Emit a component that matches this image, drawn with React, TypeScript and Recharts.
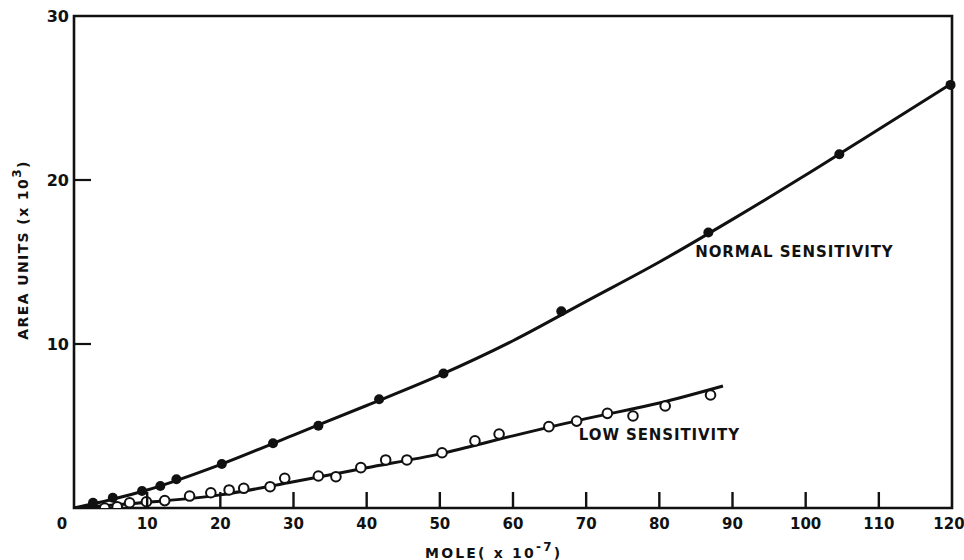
import React from 'react';
import {
  ComposedChart,
  Line,
  Scatter,
  XAxis,
  YAxis,
  ReferenceArea,
  ReferenceDot,
} from 'recharts';

// measured points, normal sensitivity (filled dots)
const normalX = [2.6, 5.3, 9.3, 11.8, 14.0, 20.2, 27.2, 33.4, 41.7, 50.5, 66.6, 86.7, 104.6, 119.8];
const normalY = [0.32, 0.63, 1.04, 1.34, 1.75, 2.68, 3.95, 5.02, 6.63, 8.2, 12.0, 16.8, 21.57, 25.8];

// drawn curve through the normal points
const normalCurveX = [0, 5, 10, 20, 30, 40, 50, 60, 70, 80, 90, 100, 110, 120];
const normalCurveY = [0, 0.5, 1.1, 2.65, 4.45, 6.25, 8.1, 10.2, 12.6, 15.0, 17.6, 20.3, 23.1, 25.9];

// measured points, low sensitivity (open circles)
const lowX = [4.2, 5.9, 7.6, 9.9, 12.4, 15.8, 18.7, 21.2, 23.2, 26.8, 28.8, 33.4, 35.8, 39.2, 42.6, 45.5, 50.3, 54.8, 58.1, 64.9, 68.7, 72.9, 76.4, 80.8, 87.0];
const lowY = [0, 0.08, 0.32, 0.38, 0.45, 0.73, 0.93, 1.1, 1.2, 1.3, 1.81, 1.95, 1.91, 2.46, 2.93, 2.93, 3.37, 4.09, 4.51, 4.96, 5.3, 5.77, 5.61, 6.22, 6.89];

// drawn line through the low points
const lowCurveX = [0, 10, 20, 30, 40, 50, 60, 70, 80, 88.7];
const lowCurveY = [0, 0.35, 0.8, 1.6, 2.45, 3.3, 4.4, 5.45, 6.4, 7.44];

const xTicks = [0, 10, 20, 30, 40, 50, 60, 70, 80, 90, 100, 110, 120];
const yTicks = [10, 20, 30];

const FONT = '"DejaVu Sans", sans-serif';
const INK = '#111';

const zip = (xs: number[], ys: number[]) => xs.map((x, i) => ({ x, y: ys[i] }));

const normalPoints = zip(normalX, normalY);
const normalCurve = zip(normalCurveX, normalCurveY);
const lowPoints = zip(lowX, lowY);
const lowCurve = zip(lowCurveX, lowCurveY);

const XTick = ({ x, y, payload }: any) => {
  const v = payload.value;
  // first and last labels are nudged inward like the original lettering
  const dx = v === 0 ? -12 : v === 120 ? -3 : 0;
  return (
    <g>
      {v > 0 && v < 120 && (
        <path d={`M${x},${y - 1}V${y - 16}`} stroke={INK} strokeWidth={2.4} fill="none" />
      )}
      <text
        x={x + dx}
        y={y + 21}
        textAnchor="middle"
        fontFamily={FONT}
        fontWeight="bold"
        fontSize={15}
        fill={INK}
      >
        {v}
      </text>
    </g>
  );
};

const YTick = ({ x, y, payload }: any) => {
  const v = payload.value;
  return (
    <g>
      {v > 0 && v < 30 && (
        <path d={`M${x + 1},${y}H${x + 17}`} stroke={INK} strokeWidth={2.2} fill="none" />
      )}
      <text
        x={x - 5}
        y={y}
        textAnchor="end"
        dominantBaseline="central"
        fontFamily={FONT}
        fontWeight="bold"
        fontSize={16}
        fill={INK}
      >
        {v}
      </text>
    </g>
  );
};

const XTitle = ({ viewBox }: any) => (
  <text
    x={viewBox.x + 351}
    y={viewBox.y + 45}
    dominantBaseline="central"
    fontFamily={FONT}
    fontWeight="bold"
    fontSize={14}
    letterSpacing={2.2}
    fill={INK}
  >
    MOLE( x 10
    <tspan dy={-6} fontSize={12}>-7</tspan>
    <tspan dy={6}>)</tspan>
  </text>
);

const YTitle = ({ viewBox }: any) => {
  const cx = viewBox.x + 9;
  const cy = viewBox.y + 234;
  return (
    <text
      x={cx}
      y={cy}
      transform={`rotate(-90 ${cx} ${cy})`}
      textAnchor="middle"
      dominantBaseline="central"
      fontFamily={FONT}
      fontWeight="bold"
      fontSize={14}
      letterSpacing={1.4}
      fill={INK}
    >
      AREA  UNITS (x 10
      <tspan dy={-6} fontSize={12}>3</tspan>
      <tspan dy={6}>)</tspan>
    </text>
  );
};

const Annot = ({ viewBox, text }: any) => (
  <text
    x={viewBox.x}
    y={viewBox.y}
    dominantBaseline="central"
    fontFamily={FONT}
    fontWeight="bold"
    fontSize={15}
    letterSpacing={0.9}
    fill={INK}
  >
    {text}
  </text>
);

const FilledDot = (p: any) => <circle cx={p.cx} cy={p.cy} r={5} fill={INK} />;
const OpenDot = (p: any) => (
  <circle cx={p.cx} cy={p.cy} r={4.8} fill="#fff" stroke={INK} strokeWidth={2} />
);

const App: React.FC = () => {
  return (
    <div style={{ position: 'absolute', left: 0, top: 0, width: 964, height: 560, background: '#fff' }}>
      <ComposedChart width={964} height={560} margin={{ top: 16, right: 12, bottom: 0, left: 14 }}>
        <XAxis
          dataKey="x"
          type="number"
          domain={[0, 120]}
          ticks={xTicks}
          axisLine={false}
          tickLine={false}
          tickSize={0}
          tickMargin={0}
          tick={<XTick />}
          height={52}
          interval={0}
          label={<XTitle />}
        />
        <YAxis
          dataKey="y"
          type="number"
          domain={[0, 30]}
          ticks={yTicks}
          axisLine={false}
          tickLine={false}
          tickSize={0}
          tickMargin={0}
          tick={<YTick />}
          width={60}
          interval={0}
          allowDataOverflow
          label={<YTitle />}
        />
        <ReferenceArea x1={0} x2={120} y1={0} y2={30} fill="none" stroke={INK} strokeWidth={2.6} />
        <Line
          data={normalCurve}
          dataKey="y"
          type="monotone"
          stroke={INK}
          strokeWidth={3}
          dot={false}
          activeDot={false}
          isAnimationActive={false}
        />
        <Line
          data={lowCurve}
          dataKey="y"
          type="monotone"
          stroke={INK}
          strokeWidth={3}
          dot={false}
          activeDot={false}
          isAnimationActive={false}
        />
        <Scatter data={normalPoints} dataKey="y" shape={FilledDot} isAnimationActive={false} />
        <Scatter data={lowPoints} dataKey="y" shape={OpenDot} isAnimationActive={false} />
        <ReferenceDot
          x={84.9}
          y={15.6}
          r={0}
          fill="none"
          stroke="none"
          label={<Annot text="NORMAL  SENSITIVITY" />}
        />
        <ReferenceDot
          x={69.0}
          y={4.45}
          r={0}
          fill="none"
          stroke="none"
          label={<Annot text="LOW  SENSITIVITY" />}
        />
      </ComposedChart>
    </div>
  );
};

export default App;
